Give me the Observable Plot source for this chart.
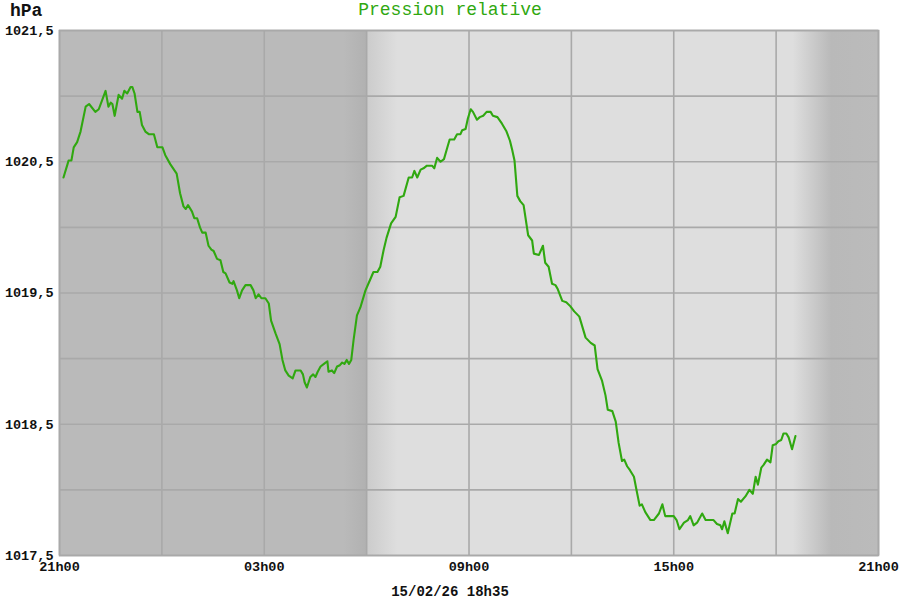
<!DOCTYPE html>
<html>
<head>
<meta charset="utf-8">
<script src="https://cdn.jsdelivr.net/npm/d3@7"></script>
<script src="https://cdn.jsdelivr.net/npm/@observablehq/plot@0.6"></script>
<style>
  html, body { margin: 0; padding: 0; background: #ffffff; }
  #wrap { width: 900px; position: relative; font-family: "Liberation Mono", "Courier New", monospace; }
  #head { position: relative; height: 20px; }
  #unit { position: absolute; left: 10px; top: 0px; font-size: 18px; font-weight: bold; line-height: 22px; color: #111; }
  #title { position: absolute; left: 0; width: 900px; top: 0px; text-align: center; font-size: 18px; line-height: 20px; color: #30a810; }
  #foot { height: 20px; line-height: 20px; padding-top: 2px; text-align: center; font-size: 14px; font-weight: bold; color: #111; }
</style>
</head>
<body>
<div id="wrap">
  <div id="head"><span id="unit">hPa</span><span id="title">Pression relative</span></div>
  <div id="chart"></div>
  <div id="foot">15/02/26 18h35</div>
</div>
<script>
// minutes after 21h00
const minutes = [7,14,16,21,25,31,37,46,52,63,69,75,81,86,90,93,97,104,110,114,119,125,128,132,137,141,145,151,157,166,172,181,186,195,206,212,218,222,226,233,237,242,247,251,257,262,267,271,277,283,288,292,299,304,306,312,316,321,327,336,341,345,350,355,362,368,372,380,387,392,397,403,410,415,424,428,431,435,441,446,450,454,459,465,471,473,479,483,488,493,497,501,505,509,513,517,523,529,538,544,552,559,564,570,575,583,591,598,605,614,620,624,629,635,640,646,655,659,664,670,676,682,686,694,699,705,708,714,718,723,727,734,739,745,751,758,762,770,778,786,792,796,800,805,810,816,824,831,834,843,850,854,860,866,872,876,884,891,898,905,914,925,934,941,946,954,960,964,972,978,983,989,993,998,1003,1010,1014,1020,1024,1030,1039,1045,1054,1060,1065,1071,1080,1085,1090,1098,1105,1109,1115,1121,1130,1136,1145,1150,1156,1162,1165,1169,1175,1183,1187,1193,1198,1206,1213,1219,1224,1228,1234,1238,1244,1250,1254,1260,1264,1269,1273,1278,1282,1288,1294];
// relative pressure, hPa
const pressure = [1020.38,1020.48,1020.51,1020.51,1020.61,1020.65,1020.73,1020.92,1020.94,1020.88,1020.90,1020.97,1021.04,1020.92,1020.95,1020.94,1020.85,1021.01,1020.98,1021.04,1021.02,1021.07,1021.07,1021.02,1020.88,1020.88,1020.78,1020.73,1020.71,1020.71,1020.61,1020.61,1020.55,1020.48,1020.41,1020.26,1020.16,1020.14,1020.17,1020.12,1020.07,1020.07,1020.00,1019.96,1019.96,1019.86,1019.83,1019.82,1019.76,1019.75,1019.66,1019.65,1019.58,1019.57,1019.59,1019.52,1019.46,1019.52,1019.56,1019.56,1019.52,1019.46,1019.49,1019.46,1019.46,1019.42,1019.29,1019.19,1019.11,1018.99,1018.91,1018.87,1018.85,1018.91,1018.91,1018.88,1018.82,1018.78,1018.86,1018.88,1018.86,1018.90,1018.94,1018.96,1018.98,1018.90,1018.91,1018.89,1018.94,1018.95,1018.97,1018.96,1018.99,1018.96,1018.99,1019.14,1019.33,1019.39,1019.52,1019.58,1019.66,1019.66,1019.70,1019.83,1019.92,1020.03,1020.08,1020.23,1020.24,1020.38,1020.38,1020.43,1020.38,1020.44,1020.45,1020.47,1020.47,1020.45,1020.53,1020.50,1020.52,1020.61,1020.67,1020.67,1020.71,1020.71,1020.74,1020.75,1020.83,1020.90,1020.88,1020.82,1020.84,1020.85,1020.88,1020.88,1020.85,1020.84,1020.79,1020.73,1020.66,1020.59,1020.51,1020.24,1020.20,1020.17,1019.94,1019.90,1019.80,1019.79,1019.86,1019.73,1019.70,1019.57,1019.56,1019.53,1019.44,1019.43,1019.40,1019.36,1019.32,1019.16,1019.12,1019.10,1018.92,1018.83,1018.72,1018.61,1018.60,1018.52,1018.36,1018.22,1018.23,1018.18,1018.15,1018.10,1018.01,1017.88,1017.89,1017.83,1017.77,1017.77,1017.82,1017.89,1017.80,1017.80,1017.80,1017.77,1017.70,1017.75,1017.77,1017.80,1017.73,1017.75,1017.82,1017.77,1017.77,1017.77,1017.74,1017.73,1017.70,1017.76,1017.67,1017.82,1017.82,1017.93,1017.91,1017.95,1018.00,1017.97,1018.10,1018.04,1018.17,1018.19,1018.23,1018.21,1018.34,1018.35,1018.37,1018.38,1018.43,1018.43,1018.40,1018.31,1018.41];

const xTicks = [0, 360, 720, 1080, 1440];
const xTickLabels = ["21h00", "03h00", "09h00", "15h00", "21h00"];
const xGrid = [0, 180, 360, 540, 720, 900, 1080, 1260, 1440];
const yTicks = [1017.5, 1018.5, 1019.5, 1020.5, 1021.5];
const yGrid = [1017.5, 1018, 1018.5, 1019, 1019.5, 1020, 1020.5, 1021, 1021.5];

// day/night shading: colour stops (minutes after 21h00)
const shadeAt = [0, 500, 540, 540, 595, 1290, 1358, 1440];
const shadeColor = ["#bababa", "#bababa", "#b1b1b1", "#cbcbcb", "#dedede", "#dedede", "#b9b9b9", "#bbbbbb"];

const data = minutes.map((t, i) => ({t, p: pressure[i]}));
const span = [{s: 0, e: 1440}];

const chart = Plot.plot({
  width: 900,
  height: 560,
  marginLeft: 59,
  marginRight: 22,
  marginTop: 10,
  marginBottom: 25,
  style: {fontFamily: '"Liberation Mono", "Courier New", monospace', fontSize: "13.5px", fontWeight: "bold", background: "white", color: "#111", overflow: "visible"},
  x: {type: "linear", domain: [0, 1440]},
  y: {domain: [1017.5, 1021.5]},
  marks: [
    Plot.rect(span, {x1: "s", x2: "e", y1: 1017.5, y2: 1021.5, fill: "url(#shade)"}),
    Plot.ruleX(xGrid, {stroke: "#a9a9a9", strokeWidth: 1.6}),
    Plot.ruleY(yGrid, {stroke: "#a9a9a9", strokeWidth: 1.6}),
    Plot.frame({stroke: "#a9a9a9", strokeWidth: 1.6}),
    Plot.line(data, {x: "t", y: "p", stroke: "#30a810", strokeWidth: 2.1, strokeLinejoin: "round"}),
    Plot.axisY({ticks: yTicks, tickSize: 0, tickPadding: 6, label: null, tickFormat: d => d.toFixed(1).replace(".", ",")}),
    Plot.axisX({ticks: xTicks, tickSize: 0, tickPadding: 6, label: null, tickFormat: d => xTickLabels[xTicks.indexOf(d)]})
  ]
});

// gradient definition for the shading
const ns = "http://www.w3.org/2000/svg";
const defs = document.createElementNS(ns, "defs");
const g = document.createElementNS(ns, "linearGradient");
g.setAttribute("id", "shade");
g.setAttribute("x1", "0"); g.setAttribute("x2", "1");
g.setAttribute("y1", "0"); g.setAttribute("y2", "0");
shadeAt.forEach((m, i) => {
  const st = document.createElementNS(ns, "stop");
  st.setAttribute("offset", (m / 1440).toFixed(5));
  st.setAttribute("stop-color", shadeColor[i]);
  g.appendChild(st);
});
defs.appendChild(g);
chart.insertBefore(defs, chart.firstChild);
document.getElementById("chart").appendChild(chart);
</script>
</body>
</html>
